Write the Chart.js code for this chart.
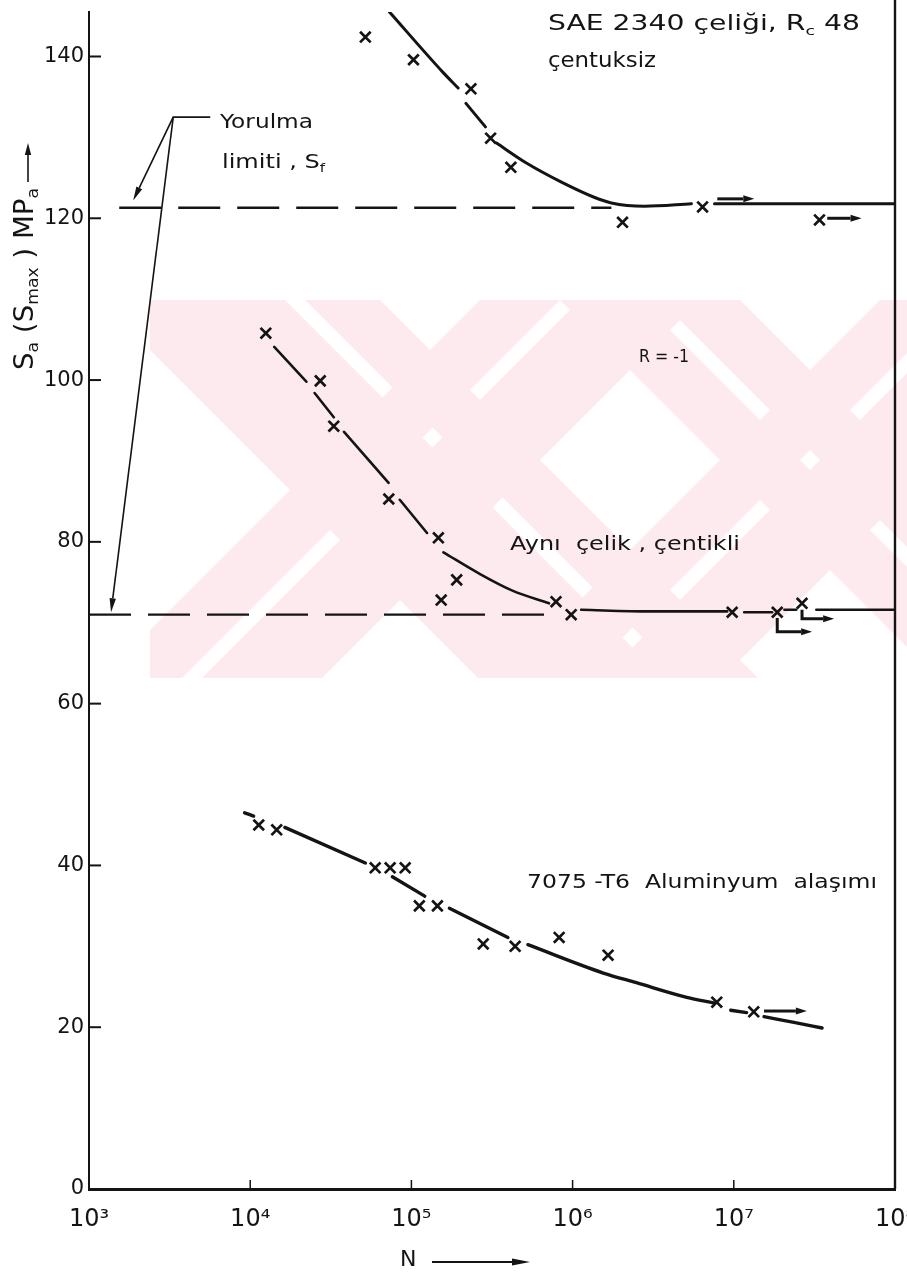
<!DOCTYPE html>
<html><head><meta charset="utf-8">
<script src="https://cdn.jsdelivr.net/npm/chart.js@4.4.1/dist/chart.umd.min.js"></script>
<style>html,body{margin:0;padding:0;background:#fff}#wrap{width:907px;height:1274px;position:relative}</style>
</head><body><div id="wrap"><canvas id="c"></canvas></div>
<script>
// ---------------- data ----------------
const xTickValues = [1e3, 1e4, 1e5, 1e6, 1e7, 1e8];
const xTickLabels = ['10³', '10⁴', '10⁵', '10⁶', '10⁷', '10⁸'];
const yTickValues = [0, 20, 40, 60, 80, 100, 120, 140];
const yTickLabels = ['0', '20', '40', '60', '80', '100', '120', '140'];

// SAE 2340 steel, Rc 48, unnotched — test points
const unnotchedN = [5.18e4, 1.03e5, 2.34e5, 3.10e5, 4.14e5, 2.04e6, 6.4e6, 3.4e7];
const unnotchedS = [142.4, 139.6, 136.0, 129.9, 126.3, 119.5, 121.4, 119.8];
// fitted curve (null = gap in the drawn line)
const unnotchedCurveN = [7.31e4, 1.56e5, 1.95e5, null, 2.18e5, 2.88e5, null, 3.37e5, 5.20e5, 8.47e5, 1.36e6, 1.74e6, 2.79e6, 5.46e6, null, 7.59e6, 1e8];
const unnotchedCurveS = [145.5, 138.1, 136.1, null, 134.2, 131.3, null, 129.3, 126.8, 124.5, 122.6, 121.9, 121.5, 121.8, null, 121.8, 121.8];

// same steel, notched
const notchedN = [1.25e4, 2.72e4, 3.30e4, 7.24e4, 1.47e5, 1.91e5, 1.53e5, 7.89e5, 9.80e5, 9.77e6, 1.86e7, 2.65e7];
const notchedS = [105.8, 99.9, 94.3, 85.3, 80.5, 75.3, 72.8, 72.6, 71.0, 71.3, 71.3, 72.4];
const notchedCurveN = [1.41e4, 2.23e4, null, 2.51e4, 3.30e4, null, 3.82e4, 7.22e4, null, 8.47e4, 1.25e5, null, 1.58e5, 2.62e5, 4.20e5, 7.14e5, null, 1.13e6, 2.99e6, 9.10e6, null, 1.16e7, 1.73e7, null, 2.06e7, 2.44e7, null, 3.25e7, 1e8];
const notchedCurveS = [104.1, 99.8, null, 98.4, 95.4, null, 93.6, 87.3, null, 85.2, 81.1, null, 78.7, 76.1, 74.0, 72.4, null, 71.6, 71.4, 71.4, null, 71.3, 71.3, null, 71.6, 71.6, null, 71.6, 71.6];

// 7075-T6 aluminium alloy
const aluminiumN = [1.13e4, 1.46e4, 5.96e4, 7.38e4, 9.15e4, 1.12e5, 1.45e5, 2.79e5, 4.40e5, 8.25e5, 1.66e6, 7.84e6, 1.33e7];
const aluminiumS = [45.0, 44.4, 39.7, 39.7, 39.7, 35.0, 35.0, 30.3, 30.0, 31.1, 28.9, 23.1, 21.9];
const aluminiumCurveN = [9.23e3, 1.05e4, null, 1.64e4, 5.18e4, null, 7.62e4, 1.21e5, null, 1.72e5, 3.97e5, null, 5.28e5, 1.55e6, 2.49e6, 5.11e6, 7.50e6, null, 9.57e6, 1.20e7, null, 1.54e7, 2.36e7, 3.53e7];
const aluminiumCurveS = [46.5, 46.1, null, 44.7, 40.3, null, 38.6, 36.2, null, 34.7, 31.1, null, 30.2, 26.7, 25.5, 23.7, 23.0, null, 22.1, 21.8, null, 21.3, 20.6, 19.9];

// fatigue limits (dashed)
const fatigueLimitUpperN = [1.54e3, 1.74e6];
const fatigueLimitUpperS = [121.3, 121.3];
const fatigueLimitLowerN = [1e3, 7.5e5];
const fatigueLimitLowerS = [71.0, 71.0];

// run-out arrows (did not fail), polyline in data units, arrow head at last point
const runoutN = [[7.9e6, 1.34e7], [3.8e7, 6.2e7], [1.86e7, 1.86e7, 3.06e7], [2.65e7, 2.65e7, 4.19e7], [1.54e7, 2.84e7]];
const runoutS = [[122.4, 122.4], [120.0, 120.0], [70.6, 68.9, 68.9], [71.6, 70.5, 70.5], [22.0, 22.0]];

// "Yorulma limiti" leader lines, arrow head at last point
const leaderN = [[5.65e3, 3.33e3, 1.88e3], [3.33e3, 1.37e3]];
const leaderS = [[132.5, 132.5, 122.2], [132.5, 71.3]];

// ---------------- helpers ----------------
function toPoints(N, S) {
  const out = []; let lastX = N.find(v => v !== null);
  for (let i = 0; i < N.length; i++) {
    if (N[i] === null) out.push({x: lastX, y: null});
    else { lastX = N[i]; out.push({x: N[i], y: S[i]}); }
  }
  return out;
}
const INK = '#141414';
const FONT = '"DejaVu Sans", sans-serif';
function markerSet(N, S) {
  return {data: toPoints(N, S), showLine: false, pointStyle: 'crossRot', pointRadius: 7.5,
    pointHoverRadius: 7.5, borderColor: INK, backgroundColor: INK, pointBorderWidth: 2.7, order: 1};
}
function curveSet(N, S, w) {
  return {data: toPoints(N, S), showLine: true, pointRadius: 0, borderColor: INK, borderWidth: w,
    cubicInterpolationMode: 'monotone', spanGaps: false, borderCapStyle: 'round', order: 2};
}
function dashSet(N, S) {
  return {data: toPoints(N, S), showLine: true, pointRadius: 0, borderColor: INK, borderWidth: 2.4,
    borderDash: [42, 17], borderCapStyle: 'butt', order: 3};
}

function drawArrowPath(ctx, pts, lw, headLen, headHalf) {
  ctx.save();
  ctx.strokeStyle = INK; ctx.fillStyle = INK; ctx.lineWidth = lw; ctx.lineCap = 'butt'; ctx.lineJoin = 'miter';
  const n = pts.length;
  const [tx, ty] = pts[n - 1]; const [px, py] = pts[n - 2];
  const L = Math.hypot(tx - px, ty - py); const ux = (tx - px) / L, uy = (ty - py) / L;
  const bx = tx - ux * headLen, by = ty - uy * headLen;
  ctx.beginPath(); ctx.moveTo(pts[0][0], pts[0][1]);
  for (let i = 1; i < n - 1; i++) ctx.lineTo(pts[i][0], pts[i][1]);
  ctx.lineTo(bx, by); ctx.stroke();
  ctx.beginPath(); ctx.moveTo(tx, ty);
  ctx.lineTo(bx - uy * headHalf, by + ux * headHalf);
  ctx.lineTo(bx + uy * headHalf, by - ux * headHalf);
  ctx.closePath(); ctx.fill();
  ctx.restore();
}

function richWidth(ctx, segs, size) {
  let w = 0;
  ctx.save(); ctx.letterSpacing = '0px';
  for (const s of segs) { ctx.font = (s.sub ? size * 0.62 : size) + 'px ' + FONT; w += ctx.measureText(s.t).width; }
  ctx.restore();
  return w;
}
// draws text starting at (x, y) (vertical middle), horizontally stretched to the target width
function drawFit(ctx, x, y, segs, size, target) {
  const w0 = richWidth(ctx, segs, size);
  const sx = target ? target / w0 : 1;
  ctx.save();
  ctx.translate(x, y); ctx.scale(sx, 1);
  ctx.textBaseline = 'middle'; ctx.textAlign = 'left'; ctx.fillStyle = INK;
  let cx = 0;
  for (const s of segs) {
    ctx.font = (s.sub ? size * 0.62 : size) + 'px ' + FONT;
    ctx.fillText(s.t, cx, s.sub ? size * 0.3 : 0);
    cx += ctx.measureText(s.t).width;
  }
  ctx.restore();
  return x + w0 * sx;
}

// ---------------- decoration plugin ----------------
const deco = {
  id: 'deco',
  beforeDraw(chart) {
    // faint pink watermark of the scanned page
    const ctx = chart.ctx;
    ctx.save();
    ctx.beginPath(); ctx.rect(150, 300, 757, 378); ctx.clip();
    ctx.fillStyle = '#fdeaee';
    const down = [[100, 285], [305, 380], [560, 640], [660, 740]];
    const up = [[480, 560], [580, 700], [880, 960], [980, 1100]];
    for (const [a, b] of down) { ctx.beginPath(); ctx.moveTo(a, 300); ctx.lineTo(b, 300); ctx.lineTo(b + 390, 690); ctx.lineTo(a + 390, 690); ctx.closePath(); ctx.fill(); }
    for (const [a, b] of up) { ctx.beginPath(); ctx.moveTo(a, 300); ctx.lineTo(b, 300); ctx.lineTo(b - 390, 690); ctx.lineTo(a - 390, 690); ctx.closePath(); ctx.fill(); }
    ctx.restore();
  },
  afterDraw(chart) {
    const ctx = chart.ctx, ca = chart.chartArea, xs = chart.scales.x, ys = chart.scales.y;
    ctx.save();
    ctx.strokeStyle = INK;
    // right frame line
    ctx.lineWidth = 2.4; ctx.beginPath(); ctx.moveTo(ca.right, 0); ctx.lineTo(ca.right, ca.bottom); ctx.stroke();
    // inward y ticks
    ctx.lineWidth = 2;
    for (const v of yTickValues) { if (v === 0) continue; const y = ys.getPixelForValue(v); ctx.beginPath(); ctx.moveTo(ca.left, y); ctx.lineTo(ca.left + 12, y); ctx.stroke(); }
    // inward x ticks
    ctx.lineWidth = 1.5;
    for (const v of xTickValues.slice(1, -1)) { const x = xs.getPixelForValue(v); ctx.beginPath(); ctx.moveTo(x, ca.bottom); ctx.lineTo(x, ca.bottom - 9); ctx.stroke(); }
    ctx.restore();

    // run-out arrows
    runoutN.forEach((ns, i) => {
      const pts = ns.map((n, j) => [xs.getPixelForValue(n), ys.getPixelForValue(runoutS[i][j])]);
      drawArrowPath(ctx, pts, 3, 11, 3.5);
    });
    // leader lines
    leaderN.forEach((ns, i) => {
      const pts = ns.map((n, j) => [xs.getPixelForValue(n), ys.getPixelForValue(leaderS[i][j])]);
      drawArrowPath(ctx, pts, 1.6, 14, 3.2);
    });

    // annotations
    drawFit(ctx, 548, 25, [{t: 'SAE 2340 çeliği, R'}, {t: 'c', sub: true}, {t: ' 48'}], 21, 312);
    drawFit(ctx, 548, 62, [{t: 'çentuksiz'}], 21, 108);
    drawFit(ctx, 220, 123, [{t: 'Yorulma'}], 19, 93);
    drawFit(ctx, 222, 163, [{t: 'limiti , S'}, {t: 'f', sub: true}], 19, 103);
    drawFit(ctx, 639, 357, [{t: 'R = -1'}], 18, 50);
    drawFit(ctx, 510, 545, [{t: 'Aynı  çelik , çentikli'}], 19, 230);
    drawFit(ctx, 527, 883, [{t: '7075 -T6  Aluminyum  alaşımı'}], 20, 350);

    // y-axis title (rotated, reads bottom to top)
    ctx.save();
    ctx.translate(26, 370); ctx.rotate(-Math.PI / 2);
    const endX = drawFit(ctx, 0, 0, [{t: 'S'}, {t: 'a', sub: true}, {t: ' (S'}, {t: 'max', sub: true}, {t: ' ) MP'}, {t: 'a', sub: true}], 26, 182);
    drawArrowPath(ctx, [[endX + 6, 2], [370 - 143, 2]], 1.6, 12, 3.2);
    ctx.restore();

    // x-axis title
    drawFit(ctx, 400, 1260, [{t: 'N'}], 22, 0);
    drawArrowPath(ctx, [[432, 1262], [530, 1262]], 1.8, 18, 3.5);
  }
};

// ---------------- chart ----------------
new Chart(document.getElementById('c'), {
  type: 'scatter',
  data: {
    datasets: [
      markerSet(unnotchedN, unnotchedS),
      markerSet(notchedN, notchedS),
      markerSet(aluminiumN, aluminiumS),
      curveSet(unnotchedCurveN, unnotchedCurveS, 3),
      curveSet(notchedCurveN, notchedCurveS, 2.6),
      curveSet(aluminiumCurveN, aluminiumCurveS, 3.4),
      dashSet(fatigueLimitUpperN, fatigueLimitUpperS),
      dashSet(fatigueLimitLowerN, fatigueLimitLowerS)
    ]
  },
  options: {
    responsive: true, maintainAspectRatio: false, animation: false,
    layout: {padding: {top: 12, right: 12, left: 0, bottom: 0}},
    plugins: {legend: {display: false}, tooltip: {enabled: false}},
    events: [],
    scales: {
      x: {
        type: 'logarithmic', min: 1e3, max: 1e8,
        afterBuildTicks: s => { s.ticks = xTickValues.map(v => ({value: v})); },
        afterFit: s => { s.height = 85; s.paddingLeft = 0; s.paddingRight = 0; },
        ticks: {callback: (v, i) => xTickLabels[i], autoSkip: false, maxRotation: 0, color: INK,
          font: {family: FONT, size: 24}, padding: 16},
        grid: {display: true, drawOnChartArea: false, drawTicks: false},
        border: {display: true, color: INK, width: 3}
      },
      y: {
        type: 'linear', min: 0, max: 145.5,
        afterBuildTicks: s => { s.ticks = yTickValues.map(v => ({value: v})); },
        afterFit: s => { s.width = 89; s.paddingTop = 0; s.paddingBottom = 0; },
        ticks: {callback: (v, i) => yTickLabels[i], color: INK, font: {family: FONT, size: 21}, padding: 5},
        grid: {display: true, drawOnChartArea: false, drawTicks: false},
        border: {display: true, color: INK, width: 2}
      }
    }
  },
  plugins: [deco]
});
</script></body></html>
